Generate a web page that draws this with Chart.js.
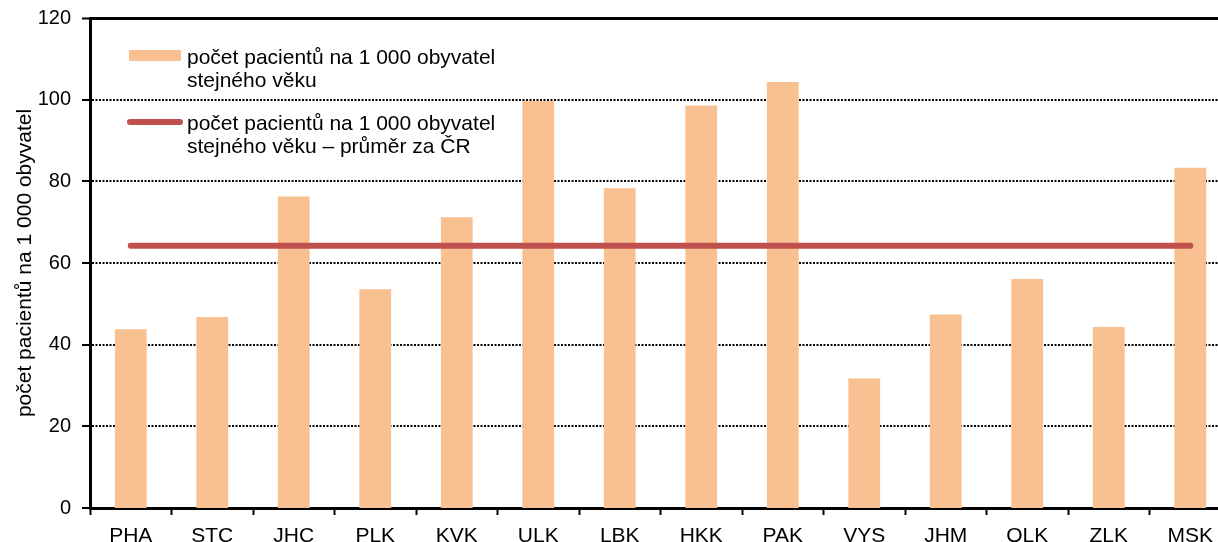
<!DOCTYPE html>
<html lang="cs">
<head>
<meta charset="utf-8">
<title>Počet pacientů podle krajů</title>
<script src="https://cdn.jsdelivr.net/npm/chart.js@4/dist/chart.umd.min.js"></script>
<style>
  html, body { margin: 0; padding: 0; overflow: hidden; background: #fff; }
  #wrap { position: relative; width: 1231px; height: 542px; }
  #legend { position: absolute; left: 0; top: 0; font: 21px "Liberation Sans", Arial, sans-serif; line-height: 23px; color: #000; }
  .item { position: absolute; left: 187px; white-space: nowrap; }
  .swatch { position: absolute; }
</style>
</head>
<body>
<div id="wrap">
  <canvas id="chart" width="1231" height="542"></canvas>
  <div id="legend">
    <div class="swatch" style="left:129px;top:50px;width:52px;height:11px;background:#F9C191"></div>
    <div class="item" style="top:45px">počet pacientů na 1 000 obyvatel<br>stejného věku</div>
    <div class="swatch" style="left:127px;top:119px;width:56px;height:6px;border-radius:3px;background:#C0504D"></div>
    <div class="item" style="top:111px">počet pacientů na 1 000 obyvatel<br>stejného věku – průměr za ČR</div>
  </div>
</div>
<script>
// kraje a hodnoty
const regions = ["PHA", "STC", "JHC", "PLK", "KVK", "ULK", "LBK", "HKK", "PAK", "VYS", "JHM", "OLK", "ZLK", "MSK"];
const patients = [43.8, 46.8, 76.3, 53.6, 71.2, 99.7, 78.3, 98.6, 104.3, 31.7, 47.4, 56.1, 44.3, 83.3];
const czAverage = 64.2;
const yMin = 0;
const yMax = 120;
const yStep = 20;

const FONT = "'Liberation Sans', Arial, sans-serif";

const ctx = document.getElementById("chart").getContext("2d");

const chart = new Chart(ctx, {
  type: "bar",
  data: {
    labels: regions,
    datasets: [
      {
        type: "line",
        label: "počet pacientů na 1 000 obyvatel stejného věku – průměr za ČR",
        data: regions.map(() => czAverage),
        borderColor: "#C0504D",
        borderWidth: 6,
        borderCapStyle: "round",
        pointRadius: 0,
        fill: false,
        order: 0
      },
      {
        label: "počet pacientů na 1 000 obyvatel stejného věku",
        data: patients,
        backgroundColor: "#F9C191",
        borderWidth: 0,
        categoryPercentage: 1,
        barPercentage: 0.39,
        order: 1
      }
    ]
  },
  options: {
    responsive: false,
    animation: false,
    layout: { padding: { top: 18, left: 0, right: 0, bottom: 0 } },
    plugins: {
      legend: { display: false },
      tooltip: { enabled: false }
    },
    scales: {
      x: {
        offset: true,
        afterFit: (s) => { s.height = 34; },
        grid: {
          offset: true,
          drawOnChartArea: false,
          drawTicks: true,
          tickLength: 7,
          tickWidth: 2,
          tickColor: "#000"
        },
        border: { color: "#000", width: 3 },
        ticks: {
          color: "#000",
          padding: 9,
          maxRotation: 0,
          font: { family: FONT, size: 21 }
        }
      },
      y: {
        min: yMin,
        max: yMax,
        // pevná šířka osy, bez přesahu popisků nahoře/dole
        afterFit: (s) => {
          s.width = 90;
          s.paddingTop = 0;
          s.paddingBottom = 0;
        },
        grid: {
          color: "#000",
          lineWidth: (c) => (c.tick && c.tick.value === yMax ? 3 : (c.tick && c.tick.value === yMin ? 0 : 2)),
          drawTicks: true,
          tickLength: 8,
          tickWidth: 2,
          tickColor: "#000",
          tickBorderDash: []
        },
        border: {
          color: "#000",
          width: 3,
          dash: (c) => (c.tick && c.tick.value === yMax ? [] : [2, 1.5])
        },
        ticks: {
          stepSize: yStep,
          color: "#000",
          padding: 11,
          font: { family: FONT, size: 20 }
        },
        title: {
          display: true,
          text: "počet pacientů na 1 000 obyvatel",
          color: "#000",
          padding: { top: 13, bottom: 0 },
          font: { family: FONT, size: 21 }
        }
      }
    }
  }
});
</script>
</body>
</html>
